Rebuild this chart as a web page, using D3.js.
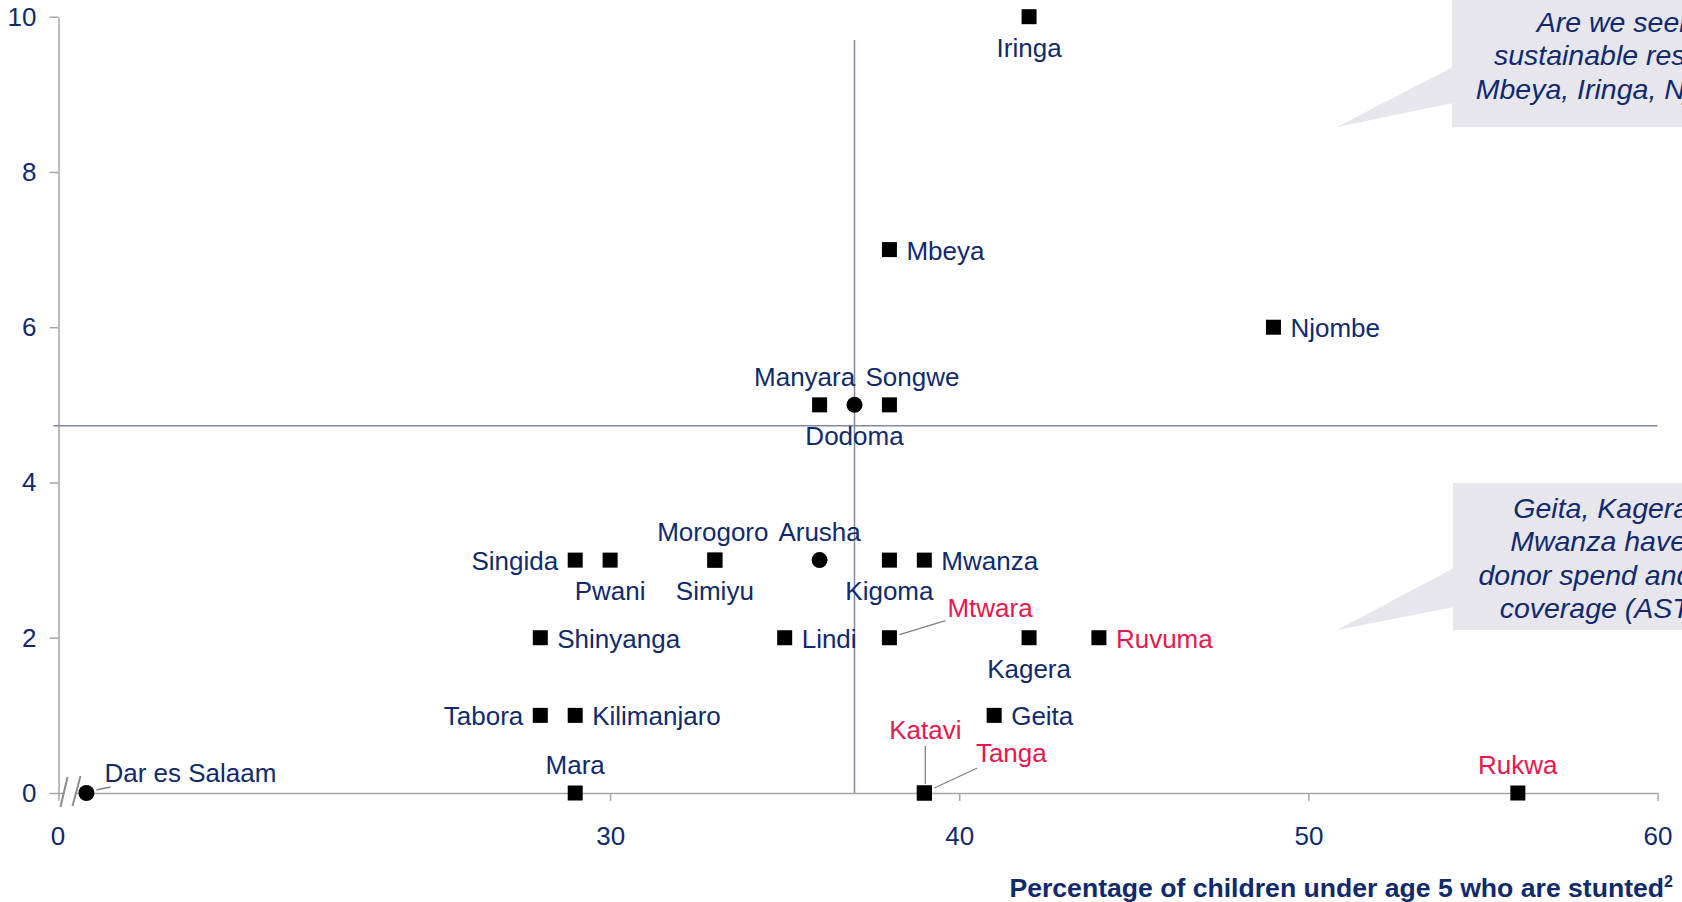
<!DOCTYPE html>
<html>
<head>
<meta charset="utf-8">
<script src="https://cdn.jsdelivr.net/npm/d3@7"></script>
<style>
  html, body { margin: 0; padding: 0; background: #ffffff; overflow: hidden; }
  svg { display: block; font-family: "Liberation Sans", Arial, sans-serif; }
</style>
</head>
<body>
<svg id="chart" width="1682" height="902"></svg>
<script>
// ---- data -------------------------------------------------------------
const regions  = ["Iringa", "Mbeya", "Njombe", "Manyara", "Dodoma", "Songwe",
                  "Singida", "Pwani", "Morogoro", "Simiyu", "Arusha", "Kigoma", "Mwanza",
                  "Shinyanga", "Lindi", "Mtwara", "Kagera", "Ruvuma",
                  "Tabora", "Kilimanjaro", "Geita",
                  "Mara", "Katavi", "Tanga", "Rukwa", "Dar es Salaam"];
// % of children under 5 who are stunted
const stunting = [42, 38, 49, 36, 37, 38,
                  29, 30, 33, 33, 36, 38, 39,
                  28, 35, 38, 42, 44,
                  28, 29, 41,
                  29, 39, 39, 56, 15];
// vertical-axis value per region
const score    = [10, 7, 6, 5, 5, 5,
                  3, 3, 3, 3, 3, 3, 3,
                  2, 2, 2, 2, 2,
                  1, 1, 1,
                  0, 0, 0, 0, 0];
const circleRegions  = ["Dodoma", "Arusha", "Dar es Salaam"];
const flaggedRegions = ["Mtwara", "Ruvuma", "Katavi", "Tanga", "Rukwa"];

const xTickValues = [30, 40, 50, 60];
const yTickValues = [0, 2, 4, 6, 8, 10];
const xBreakStart = 14.2;      // x axis is broken: everything below this is cut away, origin still labelled 0
const avgStunting = 37;        // vertical reference line
const avgScore    = 4.73;      // horizontal reference line

const xTitle = "Percentage of children under age 5 who are stunted";

const calloutTop    = ["Are we seeing", "sustainable results in", "Mbeya, Iringa, Njombe?"];
const calloutBottom = ["Geita, Kagera and", "Mwanza have high", "donor spend and strong", "coverage (ASTs) but"];

// ---- label layout --------------------------------------------------------
const labelSide = {
  "Iringa": "below", "Mbeya": "right", "Njombe": "right",
  "Manyara": "above", "Dodoma": "below", "Songwe": "above",
  "Singida": "left", "Pwani": "below", "Morogoro": "above", "Simiyu": "below",
  "Arusha": "above", "Kigoma": "below", "Mwanza": "right",
  "Shinyanga": "right", "Lindi": "right", "Kagera": "below", "Ruvuma": "right",
  "Tabora": "left", "Kilimanjaro": "right", "Geita": "right",
  "Mara": "above", "Rukwa": "above"
};
const labelNudge = { "Manyara": -15, "Songwe": 23, "Morogoro": -2 };
// labels pulled away from their marker with a short leader line
const leaderLabels = {
  "Mtwara":        { tx: 58, ty: -30, anchor: "start",  line: [10, -3, 56, -17] },
  "Katavi":        { tx: 1,  ty: -63, anchor: "middle", line: [1, -9, 1, -47] },
  "Tanga":         { tx: 87, ty: -40, anchor: "middle", line: [10, -5, 53, -25] },
  "Dar es Salaam": { tx: 18, ty: -20, anchor: "start",  line: [10, -3, 24, -6] }
};

// ---- setup -------------------------------------------------------------
const NAVY = "#102a6c", RED = "#e8174f", AXIS = "#a6a6a6", REF = "#8288a8", BOX = "#e6e6ec";
const FONT = 26;
const CALLOUT_FONT = 28.5;

const svg = d3.select("#chart");
const margin = { left: 58.5, right: 24.5, top: 16.7, bottom: 109 };
const W = 1682, H = 902;

const x = d3.scaleLinear().domain([xBreakStart, 60]).range([margin.left, W - margin.right]);
const y = d3.scaleLinear().domain([0, 10]).range([H - margin.bottom, margin.top]);

const points = regions.map((name, i) => ({
  name, sx: stunting[i], sy: score[i],
  circle: circleRegions.includes(name),
  flagged: flaggedRegions.includes(name)
}));

// ---- callouts --------------------------------------------------------------
function callout(boxX, boxY, boxH, tip, baseY0, baseY1, lines, centerX, firstLineY, lineGap) {
  const g = svg.append("g");
  g.append("rect").attr("x", boxX).attr("y", boxY).attr("width", 400).attr("height", boxH).attr("fill", BOX);
  g.append("path")
    .attr("d", `M${boxX + 1},${baseY0} L${tip[0]},${tip[1]} L${boxX + 1},${baseY1} Z`)
    .attr("fill", BOX);
  g.selectAll("text").data(lines).join("text")
    .attr("x", centerX).attr("y", (d, i) => firstLineY + i * lineGap)
    .attr("text-anchor", "middle").attr("dominant-baseline", "central")
    .attr("font-style", "italic").attr("font-size", CALLOUT_FONT).attr("fill", NAVY)
    .text(d => d);
}
callout(1452, -5, 132, [1337, 127], 67, 103, calloutTop, 1627, 21.5, 33.8);
callout(1453, 483, 147, [1337, 630], 568, 607, calloutBottom, 1629, 507.5, 33.6);

// ---- axes --------------------------------------------------------------
const yAxis = svg.append("g")
  .attr("transform", `translate(${margin.left},0)`)
  .call(d3.axisLeft(y).tickValues(yTickValues).tickSize(9).tickSizeOuter(0).tickPadding(13));

const xAxis = svg.append("g")
  .attr("transform", `translate(0,${y(0)})`)
  .call(d3.axisBottom(x).tickValues([xBreakStart, ...xTickValues])
    .tickFormat(d => d === xBreakStart ? "0" : d3.format("d")(d))
    .tickSize(8).tickSizeOuter(0));

[yAxis, xAxis].forEach(a => {
  a.select(".domain").attr("stroke", AXIS).attr("stroke-width", 1.5);
  a.selectAll(".tick line").attr("stroke", AXIS).attr("stroke-width", 1.5);
  a.selectAll(".tick text").attr("fill", NAVY).attr("font-size", FONT)
    .attr("font-family", "Liberation Sans, Arial, sans-serif");
});
xAxis.selectAll(".tick text").attr("y", 43).attr("dy", "0.35em");
xAxis.selectAll(".tick").filter(d => d === xBreakStart).select("text").attr("dx", -1);

// axis break marks
const bx = x(xBreakStart), by = y(0);
svg.append("rect").attr("x", bx + 5).attr("y", by - 2).attr("width", 12).attr("height", 4).attr("fill", "#fff");
[[2, 14, 9, -16], [14, 13, 22, -17]].forEach(([x0, y0, x1, y1]) => {
  svg.append("line")
    .attr("x1", bx + x0).attr("y1", by + y0).attr("x2", bx + x1).attr("y2", by + y1)
    .attr("stroke", "#8c8c8c").attr("stroke-width", 2);
});

// ---- reference lines ------------------------------------------------------------
svg.append("line")
  .attr("x1", x(avgStunting)).attr("x2", x(avgStunting))
  .attr("y1", y(9.7)).attr("y2", y(0))
  .attr("stroke", REF).attr("stroke-width", 1.5);
svg.append("line")
  .attr("x1", x(xBreakStart) - 5).attr("x2", x(60))
  .attr("y1", y(avgScore)).attr("y2", y(avgScore))
  .attr("stroke", REF).attr("stroke-width", 1.5);

// ---- leader lines -------------------------------------------------------------
const gLeaders = svg.append("g");
points.filter(p => leaderLabels[p.name]).forEach(p => {
  const L = leaderLabels[p.name].line, cx = x(p.sx), cy = y(p.sy);
  gLeaders.append("line")
    .attr("x1", cx + L[0]).attr("y1", cy + L[1]).attr("x2", cx + L[2]).attr("y2", cy + L[3])
    .attr("stroke", "#808080").attr("stroke-width", 1.3);
});

// ---- markers ------------------------------------------------------------------
const SQ = 15;
const gMarks = svg.append("g");
gMarks.selectAll("rect").data(points.filter(p => !p.circle)).join("rect")
  .attr("x", p => x(p.sx) - SQ / 2).attr("y", p => y(p.sy) - SQ / 2)
  .attr("width", SQ).attr("height", SQ).attr("fill", "#000");
gMarks.selectAll("circle").data(points.filter(p => p.circle)).join("circle")
  .attr("cx", p => x(p.sx)).attr("cy", p => y(p.sy)).attr("r", 8).attr("fill", "#000");

// ---- labels -------------------------------------------------------------------
function labelPos(p) {
  const cx = x(p.sx), cy = y(p.sy);
  const lead = leaderLabels[p.name];
  if (lead) return { lx: cx + lead.tx, ly: cy + lead.ty, anchor: lead.anchor };
  const nudge = labelNudge[p.name] || 0;
  switch (labelSide[p.name]) {
    case "right": return { lx: cx + 17, ly: cy + 1, anchor: "start" };
    case "left":  return { lx: cx - 17, ly: cy + 1, anchor: "end" };
    case "above": return { lx: cx + nudge, ly: cy - 28, anchor: "middle" };
    default:      return { lx: cx + nudge, ly: cy + 31, anchor: "middle" };
  }
}
svg.append("g").selectAll("text").data(points).join("text")
  .each(function (p) {
    const pos = labelPos(p);
    d3.select(this).attr("x", pos.lx).attr("y", pos.ly).attr("text-anchor", pos.anchor);
  })
  .attr("dominant-baseline", "central")
  .attr("font-size", FONT)
  .attr("fill", p => p.flagged ? RED : NAVY)
  .text(p => p.name);

// ---- axis title ----------------------------------------------------------------
const title = svg.append("text")
  .attr("x", 1673).attr("y", 897)
  .attr("text-anchor", "end").attr("font-weight", "bold")
  .attr("font-size", 26.6).attr("fill", NAVY);
title.append("tspan").text(xTitle);
title.append("tspan").attr("font-size", 16).attr("dy", -10).text("2");
</script>
</body>
</html>
